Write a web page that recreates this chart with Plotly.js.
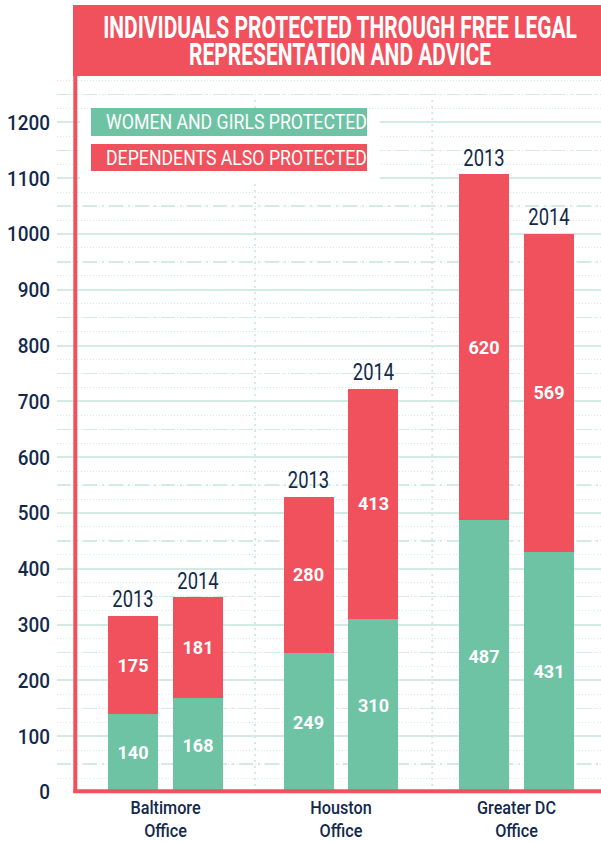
<!DOCTYPE html>
<html>
<head>
<meta charset="utf-8">
<script src="https://cdn.plot.ly/plotly-3.0.1.min.js"></script>
<style>html,body{margin:0;padding:0;background:#fff;}#chart{width:601px;height:842px;}</style>
</head>
<body>
<div id="chart"></div>
<script>
// ---- data ----
const offices = ["Baltimore<br>Office", "Houston<br>Office", "Greater DC<br>Office"];
const years = ["2013", "2014"];
const women2013 = [140, 249, 487];
const women2014 = [168, 310, 431];
const dependents2013 = [175, 280, 620];
const dependents2014 = [181, 413, 569];
const yTicks = [0, 100, 200, 300, 400, 500, 600, 700, 800, 900, 1000, 1100, 1200];
const titleText = "INDIVIDUALS PROTECTED THROUGH FREE LEGAL<br>REPRESENTATION AND ADVICE";
const legendWomen = "WOMEN AND GIRLS PROTECTED";
const legendDeps = "DEPENDENTS ALSO PROTECTED";

// ---- styling ----
const GREEN = "#6fc3a5";
const RED = "#f0515c";
const NAVY = "#13294b";
const GRID = "#d3ebe2";
const FONT = "Roboto, 'Open Sans', sans-serif";
const OFF = 0.185, BW = 0.285;

// build bar positions from group index and year
const xs = [], women = [], deps = [], totals = [], yearLbl = [];
offices.forEach((o, i) => {
  years.forEach((y, j) => {
    xs.push(i + (j === 0 ? -OFF : OFF));
    const w = j === 0 ? women2013[i] : women2014[i];
    const d = j === 0 ? dependents2013[i] : dependents2014[i];
    women.push(w); deps.push(d); totals.push(w + d); yearLbl.push(y);
  });
});

const traces = [
  {type: "bar", x: xs, y: women, width: BW, marker: {color: GREEN},
   text: women.map(String), textposition: "inside", insidetextanchor: "middle",
   constraintext: "none", textangle: 0,
   textfont: {family: FONT, size: 18, color: "#fff", weight: 700},
   hoverinfo: "skip", showlegend: false},
  {type: "bar", x: xs, y: deps, width: BW, marker: {color: RED},
   text: deps.map(String), textposition: "inside", insidetextanchor: "middle",
   constraintext: "none", textangle: 0,
   textfont: {family: FONT, size: 18, color: "#fff", weight: 700},
   hoverinfo: "skip", showlegend: false},
  {type: "scatter", mode: "text", x: xs, y: totals, text: yearLbl,
   textposition: "top center", cliponaxis: false,
   textfont: {family: FONT, size: 23, color: NAVY},
   hoverinfo: "skip", showlegend: false}
];

const L = 57, R = 601, T = 76, B = 792;
const px = v => (v - L) / (R - L);
const py = v => (B - v) / (B - T);

const layout = {
  width: 601, height: 842,
  margin: {l: L, r: 601 - R, t: T, b: 842 - B, pad: 0},
  paper_bgcolor: "#fff", plot_bgcolor: "#fff",
  barmode: "stack", bargap: 0,
  showlegend: false,
  title: {
    text: titleText,
    font: {family: FONT, size: 31, color: "#fff", weight: 700},
    xref: "paper", x: px(340), xanchor: "center",
    yref: "container", y: 1 - 40 / 842, yanchor: "middle"
  },
  xaxis: {
    range: [-(165.5 - L) / 175.5, -(165.5 - L) / 175.5 + (R - L) / 175.5],
    tickmode: "array", tickvals: [0, 1, 2], ticktext: offices,
    tickfont: {family: FONT, size: 18, color: NAVY, weight: 500},
    ticklabelstandoff: 3,
    showgrid: false, zeroline: false, showline: false, ticks: "",
    fixedrange: true
  },
  yaxis: {
    range: [0, (B - T) / 0.558],
    tickmode: "array", tickvals: yTicks, ticktext: yTicks.map(String),
    tickfont: {family: FONT, size: 21, color: NAVY, weight: 500},
    ticklabelstandoff: 6,
    showgrid: true, gridcolor: GRID, gridwidth: 2,
    minor: {dtick: 25, tick0: 0, showgrid: true, gridcolor: GRID, gridwidth: 1, griddash: "1px,2px"},
    zeroline: false, showline: false, ticks: "", fixedrange: true
  },
  yaxis2: {
    overlaying: "y", range: [0, (B - T) / 0.558],
    tickmode: "linear", tick0: 50, dtick: 100,
    showticklabels: false, showgrid: true, gridcolor: GRID, gridwidth: 1.5,
    griddash: "14px,5px,2px,5px", zeroline: false, ticks: "", fixedrange: true
  },
  shapes: [
    {type: "line", xref: "x", yref: "y", x0: 0.51, x1: 0.51, y0: 0, y1: 1245,
     line: {color: GRID, width: 2, dash: "2px,4px"}, layer: "between"},
    {type: "line", xref: "x", yref: "y", x0: 1.52, x1: 1.52, y0: 0, y1: 1245,
     line: {color: GRID, width: 2, dash: "2px,4px"}, layer: "between"},
    {type: "rect", xref: "paper", yref: "paper", x0: px(80), x1: px(380), y0: py(182), y1: py(110),
     fillcolor: "#fff", line: {width: 0}, layer: "above"},
    {type: "rect", xref: "paper", yref: "paper", x0: px(91), x1: px(367), y0: py(136), y1: py(108),
     fillcolor: GREEN, line: {width: 0}, layer: "above"},
    {type: "rect", xref: "paper", yref: "paper", x0: px(91), x1: px(367), y0: py(171), y1: py(144),
     fillcolor: RED, line: {width: 0}, layer: "above"},
    {type: "rect", xref: "paper", yref: "paper", x0: px(73), x1: 1, y0: 1, y1: py(5),
     fillcolor: RED, line: {width: 0}, layer: "above"},
    {type: "line", xref: "paper", yref: "paper", x0: px(75.3), x1: px(75.3), y0: py(793), y1: 1,
     line: {color: RED, width: 4}, layer: "above"},
    {type: "line", xref: "paper", yref: "paper", x0: px(73.3), x1: 1, y0: py(791.3), y1: py(791.3),
     line: {color: RED, width: 4}, layer: "above"}
  ],
  annotations: [
    {xref: "paper", yref: "paper", x: px(104), y: py(122), xanchor: "left", yanchor: "middle",
     text: legendWomen, showarrow: false,
     font: {family: FONT, size: 20, color: "#fff"}},
    {xref: "paper", yref: "paper", x: px(104), y: py(157.5), xanchor: "left", yanchor: "middle",
     text: legendDeps, showarrow: false,
     font: {family: FONT, size: 20, color: "#fff"}}
  ]
};

traces.push({type: "scatter", x: [0], y: [0], yaxis: "y2", mode: "markers",
  marker: {opacity: 0}, hoverinfo: "skip", showlegend: false});

// horizontal condensing of text (keeps real text)
function squeeze(el, s, anchor, shiftY) {
  const bb = el.getBBox();
  const ax = anchor === "right" ? bb.x + bb.width : anchor === "left" ? bb.x : bb.x + bb.width / 2;
  const prev = el.getAttribute("transform") || "";
  el.setAttribute("transform", prev + " translate(" + ax + "," + (shiftY || 0) + ") scale(" + s + ",1) translate(" + (-ax) + ",0)");
}

Plotly.newPlot("chart", traces, layout, {displayModeBar: false, staticPlot: true}).then(gd => {
  const t = gd.querySelector(".gtitle");
  if (t) {
    const lines = t.querySelectorAll("tspan.line");
    if (lines.length > 1) lines[1].setAttribute("dy", "26.5");
    const bb = t.getBBox();
    const dy = 40.8 - (bb.y + bb.height / 2);
    squeeze(t, 474 / lines[0].getComputedTextLength(), "center", dy);
  }
  gd.querySelectorAll(".annotation-text").forEach(el => {
    const s = el.textContent;
    if (s === legendWomen || s === legendDeps) squeeze(el, 261 / el.getBBox().width, "left");
  });
  gd.querySelectorAll(".scatterlayer .textpoint text").forEach(el => squeeze(el, 0.8, "center", -3));
  gd.querySelectorAll(".ytick text").forEach(el => squeeze(el, 0.9, "right"));
  gd.querySelectorAll(".xtick text").forEach(el => squeeze(el, 0.9, "center"));
});
</script>
</body>
</html>
